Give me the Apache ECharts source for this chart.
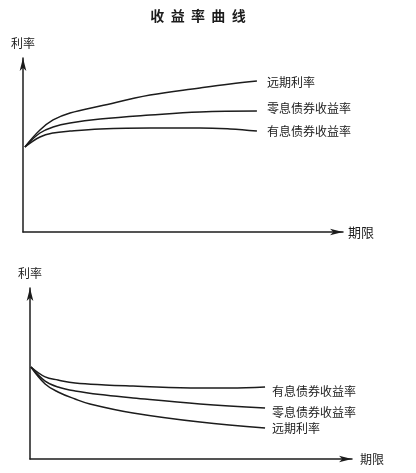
<!DOCTYPE html>
<html>
<head>
<meta charset="utf-8">
<script src="https://cdn.jsdelivr.net/npm/echarts@6/dist/echarts.min.js"></script>
<style>
html,body{margin:0;padding:0;background:#fff;}
#c{width:416px;height:473px;}
</style>
</head>
<body>
<div id="c"></div>
<script>
// Series names
const seriesNames = ['远期利率', '零息债券收益率', '有息债券收益率'];
const titleText = '收  益  率  曲  线';
const yName = '利率';
const xName = '期限';

// Upper chart (rising curves): [term, rate] in arbitrary units 0..100
const upForward = [[0.6,48.9],[5.3,58.6],[9.4,64.4],[14.7,68.4],[24.1,72.4],[39.7,78.7],[55.3,82.8],[64.7,85.1],[73.1,86.8]];
const upZero    = [[0.6,48.9],[5.3,56.9],[9.4,60.3],[14.7,62.6],[24.1,64.9],[39.7,67.2],[55.3,69.0],[73.1,69.5]];
const upCoupon  = [[0.6,48.9],[5.3,54.6],[9.4,56.9],[14.7,58.0],[24.1,59.2],[39.7,59.8],[55.3,59.8],[64.7,59.2],[73.1,58.0]];

// Lower chart (falling curves)
const downCoupon  = [[0.3,53.8],[4.7,48.0],[8.7,46.2],[14.0,44.4],[23.3,43.3],[32.0,42.7],[52.8,41.5],[62.1,41.5],[73.0,42.1]];
const downZero    = [[0.3,53.8],[4.7,45.6],[8.7,42.1],[14.0,39.8],[23.3,37.4],[32.0,35.7],[52.8,32.2],[73.0,29.8]];
const downForward = [[0.3,53.8],[4.7,43.9],[8.7,39.2],[14.0,35.1],[18.6,32.2],[32.0,26.9],[52.8,21.6],[73.0,18.1]];

const FONT = '"Noto Sans CJK SC", sans-serif';
const INK = '#1c1c1c';

function axisX(gridIndex, gap, size){
  return {
    type:'value', gridIndex, min:0, max:100,
    axisLine:{show:true, lineStyle:{color:INK, width:1.5}, symbol:['none','arrow'], symbolSize:[5,13]},
    axisTick:{show:false}, axisLabel:{show:false}, splitLine:{show:false},
    name:xName, nameLocation:'end', nameGap:gap,
    nameTextStyle:{color:INK, fontSize:size, fontFamily:FONT}
  };
}
function axisY(gridIndex){
  return {
    type:'value', gridIndex, min:0, max:100,
    axisLine:{show:true, onZero:false, lineStyle:{color:INK, width:1.5}, symbol:['none','arrow'], symbolSize:[5,13]},
    axisTick:{show:false}, axisLabel:{show:false}, splitLine:{show:false},
    name:yName, nameLocation:'end', nameGap:9,
    nameTextStyle:{color:INK, fontSize:12, fontFamily:FONT}
  };
}
function line(name, data, idx, offset, dist){
  return {
    type:'line', name, data, xAxisIndex:idx, yAxisIndex:idx,
    smooth:0.4, showSymbol:false, symbol:'none',
    lineStyle:{color:INK, width:1.5},
    endLabel:{show:true, formatter:'{a}', distance:dist, offset,
      color:INK, fontSize:12, fontFamily:FONT},
    emphasis:{disabled:true}, silent:true, animation:false
  };
}

const chart = echarts.init(document.getElementById('c'), null, {renderer:'canvas'});
chart.setOption({
  backgroundColor:'#fff',
  animation:false,
  title:{text:titleText, left:193, top:4, textAlign:'center',
    textStyle:{fontSize:14, fontWeight:'bold', color:INK, fontFamily:FONT}},
  grid:[
    {left:23, right:73, top:58, bottom:241},
    {left:30, right:64, top:288, bottom:14}
  ],
  xAxis:[axisX(0,5,13), axisX(1,8,12)],
  yAxis:[axisY(0), axisY(1)],
  series:[
    line(seriesNames[0], upForward, 0, [0,1], 10),
    line(seriesNames[1], upZero, 0, [0,-3], 10),
    line(seriesNames[2], upCoupon, 0, [0,0], 10),
    line(seriesNames[2], downCoupon, 1, [0,4], 7),
    line(seriesNames[1], downZero, 1, [0,4], 7),
    line(seriesNames[0], downForward, 1, [0,0], 7)
  ]
});
</script>
</body>
</html>
